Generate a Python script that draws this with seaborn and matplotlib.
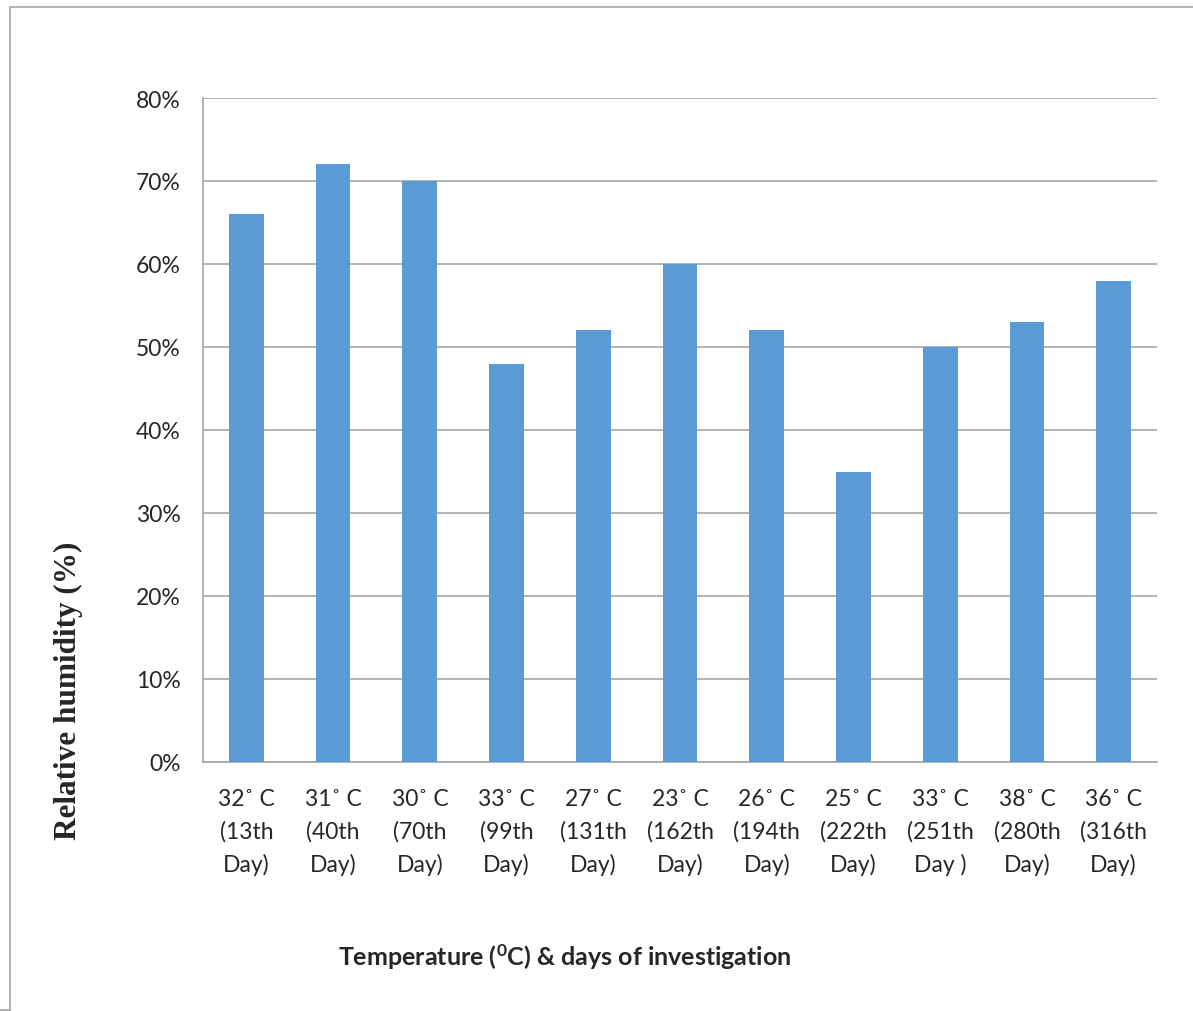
import matplotlib
matplotlib.use("Agg")
import matplotlib.pyplot as plt
import seaborn as sns
import pandas as pd
from matplotlib.lines import Line2D
from matplotlib.ticker import FuncFormatter, MultipleLocator

temps = ["32˚ C", "31˚ C", "30˚ C", "33˚ C", "27˚ C", "23˚ C", "26˚ C", "25˚ C", "33˚ C", "38˚ C", "36˚ C"]
days = ["(13th\nDay)", "(40th\nDay)", "(70th\nDay)", "(99th\nDay)", "(131th\nDay)", "(162th\nDay)",
        "(194th\nDay)", "(222th\nDay)", "(251th\nDay )", "(280th\nDay)", "(316th\nDay)"]
humidity = [66, 72, 70, 48, 52, 60, 52, 35, 50, 53, 58]

labels = [f"{t}\n{d}" for t, d in zip(temps, days)]
df = pd.DataFrame({"label": labels, "humidity": humidity})

sns.set_style("white")
plt.rcParams['font.family'] = ['Lato', 'DejaVu Sans']
plt.rcParams['mathtext.fontset'] = 'custom'
plt.rcParams['mathtext.bf'] = 'Lato:bold'
plt.rcParams['mathtext.rm'] = 'Lato'

W, H = 1193, 1012
fig = plt.figure(figsize=(W / 100, H / 100), dpi=100)
ax = fig.add_axes([203 / W, 1 - 763 / H, (1157 - 203) / W, (763 - 99) / H])

sns.barplot(data=df, x="label", y="humidity", color="#5B9BD5", saturation=1, width=0.4, ax=ax,
            zorder=3, linewidth=0)

ax.set_ylim(0, 80)
ax.set_xlim(-0.5, len(labels) - 0.5)
ax.yaxis.set_major_locator(MultipleLocator(10))
ax.yaxis.set_major_formatter(FuncFormatter(lambda v, p: f"{int(round(v))}%"))
ax.grid(axis="y", color="#A6A6A6", linewidth=1.2, zorder=0)
ax.set_axisbelow(True)

for s in ["top", "right"]:
    ax.spines[s].set_visible(False)
for s in ["left", "bottom"]:
    ax.spines[s].set_color("#A6A6A6")
    ax.spines[s].set_linewidth(1.2)

ax.tick_params(axis="y", which="major", length=8, color="#A6A6A6", width=1.2, labelsize=16.5, pad=8)
ax.tick_params(axis="x", which="major", length=0, labelsize=16.5, pad=19)
ax.set_xticks([i - 0.5 for i in range(len(labels) + 1)], minor=True)
ax.tick_params(axis="x", which="minor", length=8, color="#A6A6A6", width=1.2)
for t in ax.get_xticklabels():
    t.set_linespacing(1.63)
    t.set_ha("center")

ax.set_xlabel("")
ax.set_ylabel("")

fig.text(565 / W, 1 - 957 / H, r"Temperature ($\mathbf{^{0}}$C) & days of investigation", ha="center", va="center",
         fontsize=18, fontweight="bold")
fig.text(68 / W, 1 - 691 / H, "Relative humidity (%)", rotation=90, ha="center", va="center",
         fontsize=22.5, fontweight="bold", family=["Liberation Serif"])

# outer frame
fig.add_artist(Line2D([10 / W, 10 / W], [1 - 8 / H, 1 - 1011 / H], color="#A6A6A6", lw=1.2, transform=fig.transFigure))
fig.add_artist(Line2D([10 / W, 1.0], [1 - 8 / H, 1 - 8 / H], color="#A6A6A6", lw=1.2, transform=fig.transFigure))
fig.add_artist(Line2D([0, 10 / W], [1 - 1011 / H, 1 - 1011 / H], color="#A6A6A6", lw=1.2, transform=fig.transFigure))

fig.savefig("out.png", dpi=100)
